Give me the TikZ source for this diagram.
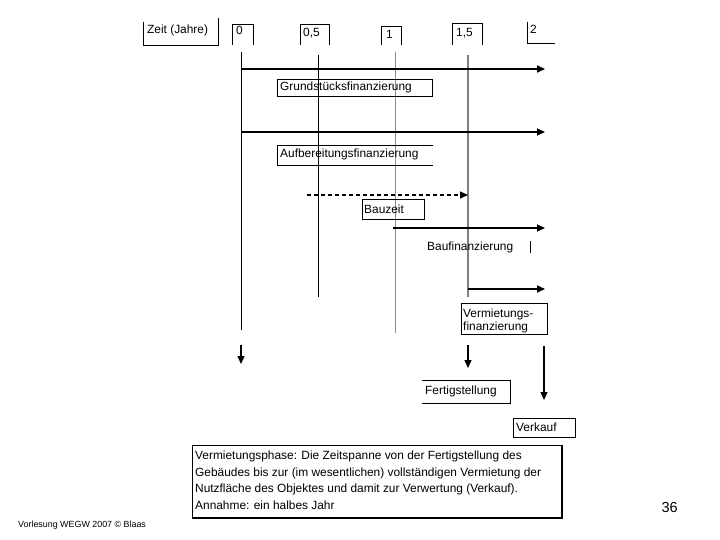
\documentclass[tikz,border=0pt]{standalone}
\usepackage{fontspec}
\setmainfont{Liberation Sans}
\usetikzlibrary{arrows.meta}
\begin{document}
\begin{tikzpicture}[x=1pt,y=-1pt,
  lbl/.style={anchor=base west, inner sep=0pt, font=\fontsize{11.9}{14}\selectfont},
  infotext/.style={anchor=base west, inner sep=0pt, font=\fontsize{11.9}{14}\selectfont},
  frame/.style={draw=black, line width=0.8pt, inner sep=0pt, anchor=north west},
  edge/.style={line width=0.8pt},
  arr/.style={line width=1.6pt, -{Triangle[length=8pt,width=7pt]}},
  darr/.style={line width=1.4pt, -{Triangle[length=8pt,width=7pt]}},
  dasharr/.style={line width=1.2pt, dash pattern=on 4pt off 3pt, -{Triangle[length=8pt,width=7pt]}},
  vline/.style={line width=0.8pt, draw=black},
  gline/.style={line width=1pt, draw=black!45},
  gline2/.style={line width=1.6pt, draw=black!50},
]
\useasboundingbox[fill=white] (0,0) rectangle (720,540);

% ---------- header boxes (partial frames) ----------
\draw[edge] (143,22) -- (143,45) -- (218,45) -- (218,18);
\node[lbl] (tzeit) at (147,34) {Zeit (Jahre)};
\draw[edge] (232,45) -- (232,24) -- (253,24) -- (253,45);
\node[lbl] (t0) at (236,35) {0};
\draw[edge] (300,45) -- (300,24) -- (329,24) -- (329,45);
\node[lbl] (t05) at (303,37) {0,5};
\draw[edge] (381,45) -- (381,26) -- (401,26) -- (401,45);
\node[lbl] (t1) at (386,39) {1};
\draw[edge] (452,45) -- (452,23) -- (482,23) -- (482,45);
\node[lbl] (t15) at (456,37) {1,5};
\draw[edge] (527,22) -- (527,43) -- (555,43);
\node[lbl] (t2) at (530,34) {2};

% ---------- time lines ----------
\coordinate (v0a) at (241,52);   \coordinate (v0b) at (241,330);
\coordinate (v05a) at (318,55);  \coordinate (v05b) at (318,297);
\coordinate (v1a) at (395,52);   \coordinate (v1b) at (395,333);
\coordinate (v15a) at (468,55);  \coordinate (v15b) at (468,297);
\draw[vline] (v0a) -- (v0b);
\draw[vline] (v05a) -- (v05b);
\draw[gline] (v1a) -- (v1b);
\draw[gline2] (v15a) -- (v15b);

% ---------- Grundstücksfinanzierung ----------
\coordinate (a1s) at (241,69); \coordinate (a1e) at (545,69);
\draw[arr] (a1s) -- (a1e);
\node[frame, minimum width=155, minimum height=17] (gbox) at (277,79) {};
\node[lbl] (gtxt) at (280,91) {Grundstücksfinanzierung};

% ---------- Aufbereitungsfinanzierung ----------
\coordinate (a2s) at (241,132); \coordinate (a2e) at (545,132);
\draw[arr] (a2s) -- (a2e);
\draw[edge] (433,145) -- (277,145) -- (277,165) -- (433,165);
\node[lbl] (atxt) at (280,158) {Aufbereitungsfinanzierung};

% ---------- Bauzeit ----------
\coordinate (a3s) at (307,195); \coordinate (a3e) at (468,195);
\draw[dasharr] (a3s) -- (a3e);
\node[frame, minimum width=62, minimum height=20] (bbox) at (362,199) {};
\node[lbl] (btxt) at (364,214) {Bauzeit};

% ---------- Baufinanzierung ----------
\coordinate (a4s) at (393,228); \coordinate (a4e) at (545,228);
\draw[arr] (a4s) -- (a4e);
\node[lbl] (bftxt) at (427,251) {Baufinanzierung};
\coordinate (tk1) at (530,241); \coordinate (tk2) at (530,253);
\draw[edge] (tk1) -- (tk2);

% ---------- Vermietungsfinanzierung ----------
\coordinate (a5s) at (468,289); \coordinate (a5e) at (545,289);
\draw[arr] (a5s) -- (a5e);
\node[frame, minimum width=86, minimum height=31] (vbox) at (461,303) {};
\node[lbl] (vtxt1) at (463,317) {Vermietungs-};
\node[lbl] (vtxt2) at (463,330) {finanzierung};

% ---------- down arrows ----------
\coordinate (d0s) at (241,345); \coordinate (d0e) at (241,364);
\draw[darr] (d0s) -- (d0e);
\coordinate (d1s) at (468,345); \coordinate (d1e) at (468,368);
\draw[darr] (d1s) -- (d1e);
\coordinate (d2s) at (544,346); \coordinate (d2e) at (544,400);
\draw[darr] (d2s) -- (d2e);

% ---------- Fertigstellung ----------
\draw[edge] (422,380) -- (510,380) -- (510,403) -- (422,403);
\node[lbl] (ftxt) at (425,394) {Fertigstellung};

% ---------- Verkauf ----------
\node[frame, minimum width=62, minimum height=19] (kbox) at (513,418) {};
\node[lbl] (ktxt) at (516,431) {Verkauf};

% ---------- info box ----------
\node[frame, minimum width=369, minimum height=72] (info) at (192,445) {};
\draw[line width=1.6pt] (info.north east) -- (info.south east) -- (info.south west);
\node[infotext] (i1) at (195,459) {Vermietungsphase: Die Zeitspanne von der Fertigstellung des};
\node[infotext] (i2) at (195,476) {Gebäudes bis zur (im wesentlichen) vollständigen Vermietung der};
\node[infotext] (i3) at (195,492) {Nutzfläche des Objektes und damit zur Verwertung (Verkauf).};
\node[infotext] (i4) at (195,509) {Annahme: ein halbes Jahr};

% ---------- footer ----------
\node[anchor=base west, inner sep=0pt, font=\fontsize{8.9}{10}\selectfont] (foot) at (18,527) {Vorlesung WEGW 2007 © Blaas};
\node[anchor=base east, inner sep=0pt, font=\fontsize{14.5}{16}\selectfont] (pg) at (678,512) {36};
\end{tikzpicture}
\end{document}
